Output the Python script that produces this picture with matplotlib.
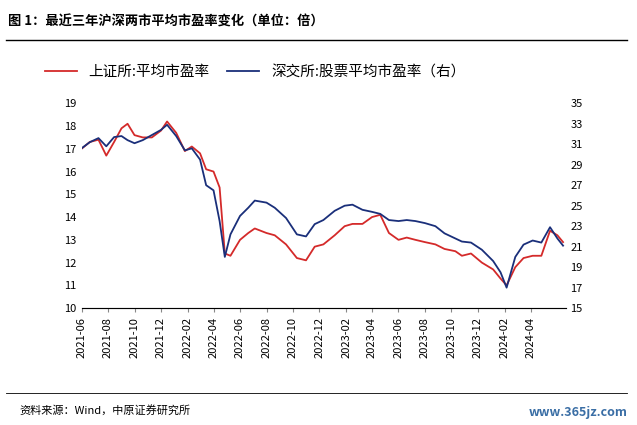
import matplotlib
matplotlib.use("Agg")
import matplotlib.pyplot as plt
import matplotlib.dates as mdates
import pandas as pd

plt.rcParams["font.family"] = ["Noto Sans CJK SC"]

dates = ["2021-06-01","2021-06-20","2021-07-10","2021-07-28","2021-08-15","2021-09-01","2021-09-15","2021-10-01","2021-10-20","2021-11-10","2021-12-01","2021-12-15","2022-01-05","2022-01-25","2022-02-10","2022-03-01","2022-03-15","2022-04-01","2022-04-15","2022-04-27","2022-05-10","2022-06-01","2022-06-20","2022-07-05","2022-08-01","2022-08-20","2022-09-15","2022-10-10","2022-10-31","2022-11-20","2022-12-10","2023-01-05","2023-01-28","2023-02-15","2023-03-10","2023-04-01","2023-04-20","2023-05-10","2023-06-01","2023-06-20","2023-07-10","2023-08-01","2023-08-25","2023-09-15","2023-10-10","2023-10-25","2023-11-15","2023-12-10","2024-01-05","2024-01-22","2024-02-05","2024-02-25","2024-03-15","2024-04-05","2024-04-25","2024-05-15","2024-06-01","2024-06-14"]
sh_pe = [17.0,17.3,17.4,16.7,17.3,17.9,18.1,17.6,17.5,17.5,17.8,18.2,17.7,16.9,17.1,16.8,16.1,16.0,15.3,12.4,12.3,13.0,13.3,13.5,13.3,13.2,12.8,12.2,12.1,12.7,12.8,13.2,13.6,13.7,13.7,14.0,14.1,13.3,13.0,13.1,13.0,12.9,12.8,12.6,12.5,12.3,12.4,12.0,11.7,11.3,11.0,11.8,12.2,12.3,12.3,13.4,13.2,12.9]
sz_pe = [30.6,31.2,31.6,30.8,31.7,31.8,31.4,31.1,31.4,31.9,32.4,32.9,31.8,30.4,30.6,29.5,27.0,26.5,23.5,20.0,22.2,24.0,24.8,25.5,25.3,24.8,23.8,22.2,22.0,23.2,23.6,24.5,25.0,25.1,24.6,24.4,24.2,23.6,23.5,23.6,23.5,23.3,23.0,22.3,21.8,21.5,21.4,20.7,19.6,18.5,17.0,20.0,21.2,21.6,21.4,22.9,21.8,21.1]
d = pd.to_datetime(dates)

fig = plt.figure(figsize=(6.37, 4.25), dpi=100)
fig.text(0.012, 0.965, "图 1：最近三年沪深两市平均市盈率变化（单位：倍）", fontsize=9.5, fontweight="bold", va="top")
fig.add_artist(plt.Line2D([0.01, 0.985], [0.905, 0.905], color="black", lw=1))
fig.add_artist(plt.Line2D([0.01, 0.985], [0.075, 0.075], color="black", lw=0.6))
fig.text(0.03, 0.035, "资料来源：Wind，中原证券研究所", fontsize=8, va="center")
fig.text(0.985, 0.03, "www.365jz.com", fontsize=9, color="#3a6ea5", ha="right", va="center", fontweight="bold")

ax = fig.add_axes([0.128, 0.275, 0.76, 0.482])
ax2 = ax.twinx()
l1, = ax.plot(d, sh_pe, color="#d42a2a", lw=1.3)
l2, = ax2.plot(d, sz_pe, color="#1a2f7a", lw=1.3)
ax.set_ylim(10, 19); ax.set_yticks(range(10, 20))
ax2.set_ylim(15, 35); ax2.set_yticks(range(15, 36, 2))
ax.set_xlim(pd.Timestamp("2021-06-01"), pd.Timestamp("2024-06-20"))
ticks = pd.date_range("2021-06-01", "2024-04-01", freq="2MS")
ax.set_xticks(ticks)
ax.set_xticklabels([t.strftime("%Y-%m") for t in ticks], rotation=90, fontsize=7.5)
for a in (ax, ax2):
    a.tick_params(labelsize=8, length=0)
    for s in ["top", "right", "left"]:
        a.spines[s].set_visible(False)
ax.spines["bottom"].set_color("#888")
ax.tick_params(axis="x", length=3, color="#888")
fig.legend([l1, l2], ["上证所:平均市盈率", "深交所:股票平均市盈率（右）"], loc="center left",
           bbox_to_anchor=(0.05, 0.83), ncol=2, frameon=False, fontsize=10.5, handlelength=2.2, columnspacing=1.2)
fig.savefig("out.png", dpi=100)
